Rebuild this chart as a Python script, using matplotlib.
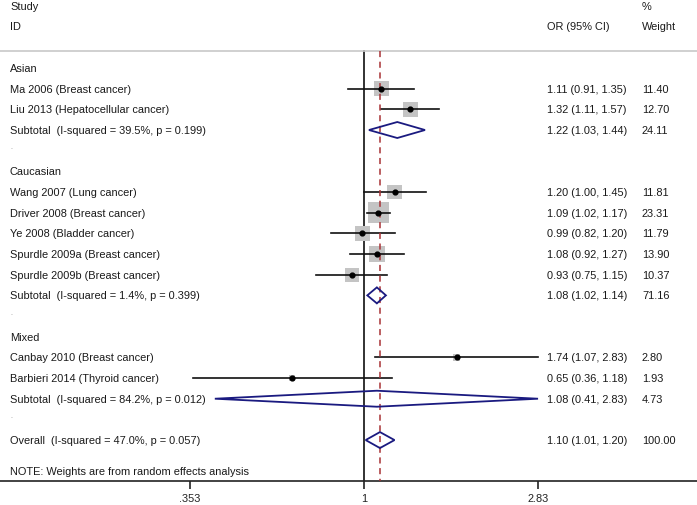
import numpy as np
import matplotlib
matplotlib.use("Agg")
import matplotlib.pyplot as plt
from matplotlib.patches import Polygon
import matplotlib.transforms as mtransforms

plt.rcParams['font.family'] = ['Liberation Sans', 'DejaVu Sans']
plt.rcParams['text.hinting'] = 'auto'

# ---- data ----
labels = ["Asian", "Ma 2006 (Breast cancer)", "Liu 2013 (Hepatocellular cancer)",
          "Subtotal  (I-squared = 39.5%, p = 0.199)", ".",
          "Caucasian", "Wang 2007 (Lung cancer)", "Driver 2008 (Breast cancer)",
          "Ye 2008 (Bladder cancer)", "Spurdle 2009a (Breast cancer)",
          "Spurdle 2009b (Breast cancer)", "Subtotal  (I-squared = 1.4%, p = 0.399)", ".",
          "Mixed", "Canbay 2010 (Breast cancer)", "Barbieri 2014 (Thyroid cancer)",
          "Subtotal  (I-squared = 84.2%, p = 0.012)", ".",
          "Overall  (I-squared = 47.0%, p = 0.057)"]
kinds = ["h", "s", "s", "d", "b",
         "h", "s", "s", "s", "s", "s", "d", "b",
         "h", "s", "s", "d", "b",
         "d"]
est = [None, 1.11, 1.32, 1.22, None,
       None, 1.20, 1.09, 0.99, 1.08, 0.93, 1.08, None,
       None, 1.74, 0.65, 1.08, None,
       1.10]
lo = [None, 0.91, 1.11, 1.03, None,
      None, 1.00, 1.02, 0.82, 0.92, 0.75, 1.02, None,
      None, 1.07, 0.36, 0.41, None,
      1.01]
hi = [None, 1.35, 1.57, 1.44, None,
      None, 1.45, 1.17, 1.20, 1.27, 1.15, 1.14, None,
      None, 2.83, 1.18, 2.83, None,
      1.20]
weight = [None, 11.40, 12.70, 24.11, None,
          None, 11.81, 23.31, 11.79, 13.90, 10.37, 71.16, None,
          None, 2.80, 1.93, 4.73, None,
          100.00]
overall_or = 1.10
xticks = [0.353, 1, 2.83]
xticklabels = [".353", "1", "2.83"]

# ---- layout ----
W, H = 697, 505
fig = plt.figure(figsize=(W / 100, H / 100), dpi=100)
axis_y = 481
ax = fig.add_axes([0, (H - axis_y) / H, 1, axis_y / H])
ax.set_xscale('log')
ppl = 167.3  # pixels per ln unit
ax.set_xlim(np.exp(-364 / ppl), np.exp((W - 364) / ppl))
ax.set_ylim(axis_y, 0)
for s in ['top', 'left', 'right']:
    ax.spines[s].set_visible(False)
ax.spines['bottom'].set_linewidth(1.2)
ax.spines['bottom'].set_color('#222222')
ax.set_yticks([])
ax.set_xticks(xticks)
ax.set_xticklabels(xticklabels)
ax.xaxis.set_minor_locator(matplotlib.ticker.NullLocator())
fs = 7.9
ax.tick_params(axis='x', length=6, width=1.2, color='#222222', labelsize=fs,
               pad=3, labelcolor='#222222')

tr = mtransforms.blended_transform_factory(ax.transAxes, ax.transData)
tc = '#1a1a1a'
xl, xor, xw = 10 / W, 547 / W, 642 / W
va = 'center_baseline'

ax.text(xl, 6, "Study", transform=tr, fontsize=fs, color=tc, va=va)
ax.text(xl, 26, "ID", transform=tr, fontsize=fs, color=tc, va=va)
ax.text(xw, 6, "%", transform=tr, fontsize=fs, color=tc, va=va)
ax.text(xw, 26, "Weight", transform=tr, fontsize=fs, color=tc, va=va)
ax.text(xor, 26, "OR (95% CI)", transform=tr, fontsize=fs, color=tc, va=va)
ax.axhline(51, color='#c8c8c8', lw=1.2)

row0, dy = 68, 20.67
ys = [row0 + i * dy for i in range(len(labels))]

ax.plot([1, 1], [51, axis_y], color='#222222', lw=1.3, zorder=1)
ax.plot([overall_or, overall_or], [51, axis_y], color='#a83236', lw=1.1,
        ls=(0, (4, 3)), zorder=4)

navy = '#1a1a80'
for y, lab, k, e, l, h, w in zip(ys, labels, kinds, est, lo, hi, weight):
    if k == 'b':
        ax.text(xl, y - 4, ".", transform=tr, fontsize=5, color='#888888', va=va)
        continue
    ax.text(xl, y, lab, transform=tr, fontsize=fs, color=tc, va=va)
    if k == 'h':
        continue
    ax.text(xor, y, f"{e:.2f} ({l:.2f}, {h:.2f})", transform=tr, fontsize=fs,
            color=tc, va=va)
    ax.text(xw, y, f"{w:.2f}", transform=tr, fontsize=fs, color=tc, va=va)
    if k == 's':
        side = 4.35 * np.sqrt(w) * 0.72
        ax.scatter([e], [y], marker='s', s=side ** 2, color='#c4c4c4',
                   edgecolors='none', zorder=2)
        ax.plot([l, h], [y, y], color='#111111', lw=1.2, zorder=3)
        ax.scatter([e], [y], marker='o', s=12, color='black', zorder=5)
    else:
        hh = 8
        poly = Polygon([[l, y], [e, y - hh], [h, y], [e, y + hh]], closed=True,
                       fill=False, edgecolor=navy, lw=1.3, zorder=6)
        ax.add_patch(poly)

ax.text(xl, 471, "NOTE: Weights are from random effects analysis", transform=tr,
        fontsize=fs, color=tc, va=va)

fig.savefig("out.png", dpi=100)
